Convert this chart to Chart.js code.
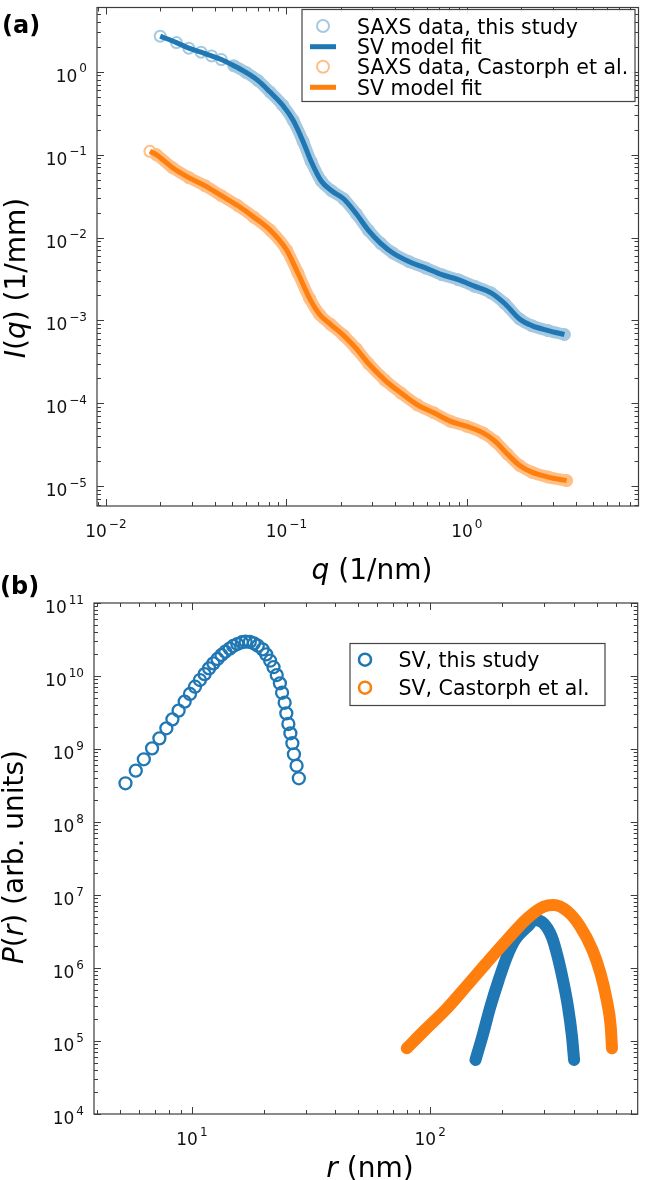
<!DOCTYPE html>
<html>
<head>
<meta charset="utf-8">
<script src="https://cdn.jsdelivr.net/npm/chart.js@4.4.1/dist/chart.umd.min.js"></script>
<style>
  html, body { margin: 0; padding: 0; background: #fff; }
  #wrap { position: relative; width: 646px; height: 1180px; overflow: hidden; }
  canvas { position: absolute; left: 0; }
  #saxsChart { top: 0; }
  #prChart { top: 560px; }
</style>
</head>
<body>
<div id="wrap">
  <canvas id="saxsChart" width="646" height="600"></canvas>
  <canvas id="prChart" width="646" height="620"></canvas>
</div>
<script>
// ---- panel (a): SAXS curves, q in 1/nm, I in 1/mm ----
var qThis = [0.0200, 0.0246, 0.0288, 0.0337, 0.0385, 0.0436, 0.0511, 0.0597, 0.0697, 0.0813, 0.0954, 0.1088, 0.1237, 0.137, 0.156, 0.178, 0.208, 0.244, 0.285, 0.333, 0.389, 0.48, 0.59, 0.727, 0.896, 1.10, 1.36, 1.62, 1.96, 2.29, 2.82, 3.47];
var iThis = [2.68, 2.24, 1.92, 1.72, 1.55, 1.40, 1.18, 0.98, 0.78, 0.567, 0.394, 0.261, 0.144, 0.083, 0.048, 0.0366, 0.0291, 0.0193, 0.0122, 0.0085, 0.0065, 0.0051, 0.0043, 0.00356, 0.0031, 0.00259, 0.00215, 0.0016, 0.00104, 0.000865, 0.000754, 0.000676];
var qCast = [0.01754, 0.0190, 0.0234, 0.0288, 0.0355, 0.0436, 0.0537, 0.0661, 0.0815, 0.1003, 0.1158, 0.1347, 0.1528, 0.1757, 0.208, 0.244, 0.285, 0.351, 0.432, 0.532, 0.656, 0.808, 0.995, 1.23, 1.43, 1.675, 1.96, 2.29, 2.82, 3.57];
var iCast = [0.1095, 0.1, 0.0695, 0.0528, 0.042, 0.0319, 0.0243, 0.0176, 0.0122, 0.00706, 0.00373, 0.00183, 0.00118, 0.000896, 0.000656, 0.000456, 0.000302, 0.000191, 0.000133, 9.6e-5, 7.7e-5, 6.1e-5, 5.3e-5, 4.4e-5, 3.5e-5, 2.45e-5, 1.78e-5, 1.48e-5, 1.29e-5, 1.17e-5];

// ---- panel (b): size distributions, r in nm ----
var rSmall = [5.26, 5.81, 6.28, 6.80, 7.30, 7.81, 8.28, 8.79, 9.32, 9.81, 10.3, 10.8, 11.3, 11.8, 12.3, 12.8, 13.3, 13.8, 14.4, 14.9, 15.5, 16.2, 16.8, 17.5, 18.2, 18.9, 19.8, 20.5, 21.3, 22.0, 22.7, 23.4, 23.9, 24.5, 24.9, 25.4, 25.9, 26.4, 26.8, 27.5, 28.1];
var pSmall = [3.39e8, 5.05e8, 7.23e8, 1.02e9, 1.40e9, 1.92e9, 2.55e9, 3.35e9, 4.45e9, 5.67e9, 7.13e9, 8.8e9, 1.06e10, 1.27e10, 1.49e10, 1.71e10, 1.94e10, 2.15e10, 2.37e10, 2.58e10, 2.74e10, 2.9e10, 2.95e10, 2.93e10, 2.8e10, 2.6e10, 2.32e10, 1.98e10, 1.62e10, 1.32e10, 1.03e10, 7.94e9, 5.9e9, 4.3e9, 3.08e9, 2.2e9, 1.64e9, 1.2e9, 8.46e8, 5.9e8, 3.97e8];
var rThisLarge = [155, 165.6, 179, 194, 210, 227, 256, 276, 299, 324, 343, 361, 379, 394, 402];
var pThisLarge = [5.5e4, 1.15e5, 2.95e5, 6.85e5, 1.43e6, 2.42e6, 3.68e6, 4.55e6, 4.1e6, 2.68e6, 1.43e6, 6.85e5, 2.95e5, 1.15e5, 5.5e4];
var rCast = [79.8, 95.2, 116, 141.5, 172, 210, 256, 299, 330, 379, 427, 480, 519, 551, 573, 580];
var pCast = [7.94e4, 1.42e5, 2.66e5, 5.55e5, 1.16e6, 2.42e6, 4.8e6, 6.9e6, 7.3e6, 5.9e6, 3.68e6, 1.77e6, 8.45e5, 3.65e5, 1.57e5, 7.94e4];

// tick labels (decades)
var xTicksA = [1e-2, 1e-1, 1];
var yTicksA = [1e-5, 1e-4, 1e-3, 1e-2, 1e-1, 1];
var xTicksB = [10, 100];
var yTicksB = [1e4, 1e5, 1e6, 1e7, 1e8, 1e9, 1e10, 1e11];

var BLUE = '#1f77b4', ORANGE = '#ff7f0e';
var BLUE_LIGHT = 'rgb(165,201,225)', ORANGE_LIGHT = 'rgb(255,191,134)';
var FONT = '"DejaVu Sans", "Noto Sans", sans-serif';

function pts(xs, ys) {
    return xs.map(function(x, i){ return {x: x, y: ys[i]}; });
}

function exponentOf(v) {
    return String(Math.round(Math.log10(v))).replace('-', '\u2212');
}

// draw "10" with a raised exponent; anchor 'right' (y axis) or 'center' (x axis)
function drawPow(ctx, v, x, base, anchor) {
    var e = exponentOf(v);
    ctx.font = '17px ' + FONT;
    var w1 = ctx.measureText('10').width;
    ctx.font = '12px ' + FONT;
    var w2 = ctx.measureText(e).width;
    var total = w1 + 2 + w2;
    var x0 = anchor === 'right' ? x - total : x - total / 2;
    ctx.font = '17px ' + FONT;
    ctx.fillText('10', x0, base);
    ctx.font = '12px ' + FONT;
    ctx.fillText(e, x0 + w1 + 2, base - 9.5);
}

// frame, inward major/minor ticks on all four sides, decade labels
var frameTicks = {
    id: 'frameTicks',
    afterDatasetsDraw: function(chart) {
        var a = chart.chartArea, ctx = chart.ctx;
        ctx.save();
        ctx.strokeStyle = '#3c3c3c';
        ctx.lineWidth = 1.2;
        ctx.strokeRect(a.left, a.top, a.right - a.left, a.bottom - a.top);
        ctx.lineWidth = 1;
        ['x', 'y'].forEach(function(id){
            var s = chart.scales[id];
            var lo = Math.floor(Math.log10(s.min)), hi = Math.ceil(Math.log10(s.max));
            for (var k = lo; k <= hi; k++) {
                for (var m = 1; m <= 9; m++) {
                    var v = m * Math.pow(10, k);
                    if (v < s.min * 0.999 || v > s.max * 1.001) continue;
                    var p = Math.round(s.getPixelForValue(v)) + 0.5;
                    var len = m === 1 ? 7 : 4;
                    ctx.beginPath();
                    if (id === 'x') {
                        ctx.moveTo(p, a.bottom); ctx.lineTo(p, a.bottom - len);
                        ctx.moveTo(p, a.top); ctx.lineTo(p, a.top + len);
                    } else {
                        ctx.moveTo(a.left, p); ctx.lineTo(a.left + len, p);
                        ctx.moveTo(a.right, p); ctx.lineTo(a.right - len, p);
                    }
                    ctx.stroke();
                }
            }
        });
        ctx.fillStyle = '#111';
        ctx.textBaseline = 'alphabetic';
        ctx.textAlign = 'left';
        chart.scales.x.ticks.forEach(function(t){
            drawPow(ctx, t.value, chart.scales.x.getPixelForValue(t.value), a.bottom + 31, 'center');
        });
        chart.scales.y.ticks.forEach(function(t){
            drawPow(ctx, t.value, a.left - 10, chart.scales.y.getPixelForValue(t.value) + 10, 'right');
        });
        ctx.restore();
    }
};

// boxed legend drawn inside the plot area
function boxLegend(o) {
    return {
        id: 'boxLegend',
        afterDraw: function(chart) {
            var ctx = chart.ctx;
            ctx.save();
            ctx.fillStyle = 'rgba(255,255,255,0.9)';
            ctx.fillRect(o.x, o.y, o.w, o.h);
            ctx.strokeStyle = '#444';
            ctx.lineWidth = 1.2;
            ctx.strokeRect(o.x, o.y, o.w, o.h);
            var row = 0;
            chart.data.datasets.forEach(function(ds){
                if (!ds.legendMarker) return;
                var cy = o.rows[row], base = o.baselines[row];
                row++;
                ctx.strokeStyle = ds.legendColor;
                ctx.beginPath();
                if (ds.legendMarker === 'line') {
                    ctx.lineWidth = 5;
                    ctx.moveTo(o.markerX - 13, cy);
                    ctx.lineTo(o.markerX + 13, cy);
                } else {
                    ctx.lineWidth = o.ring;
                    ctx.arc(o.markerX, cy, o.radius, 0, Math.PI * 2);
                }
                ctx.stroke();
                ctx.fillStyle = '#000';
                ctx.font = o.size + 'px ' + FONT;
                ctx.textBaseline = 'alphabetic';
                ctx.textAlign = 'left';
                ctx.fillText(ds.label, o.textX, base);
            });
            ctx.restore();
        }
    };
}

// axis titles with italic symbols and the panel letters
function textLayer(items) {
    return {
        id: 'textLayer',
        afterDraw: function(chart) {
            var ctx = chart.ctx;
            items.forEach(function(it){
                ctx.save();
                ctx.translate(it.x, it.y);
                if (it.rot) ctx.rotate(it.rot);
                ctx.fillStyle = '#000';
                ctx.textBaseline = 'alphabetic';
                ctx.textAlign = 'left';
                var total = 0;
                it.parts.forEach(function(p){
                    ctx.font = (p[1] ? p[1] + ' ' : '') + it.size + 'px ' + FONT;
                    total += ctx.measureText(p[0]).width;
                });
                var x = it.align === 'left' ? 0 : -total / 2;
                it.parts.forEach(function(p){
                    ctx.font = (p[1] ? p[1] + ' ' : '') + it.size + 'px ' + FONT;
                    ctx.fillText(p[0], x, 0);
                    x += ctx.measureText(p[0]).width;
                });
                ctx.restore();
            });
        }
    };
}

function logAxis(min, max, tickVals, fitKey, fitSize) {
    return {
        type: 'logarithmic',
        min: min,
        max: max,
        grid: { display: false, drawTicks: false },
        border: { display: false },
        afterBuildTicks: function(s){ s.ticks = tickVals.map(function(v){ return {value: v}; }); },
        afterFit: function(s){ s[fitKey] = fitSize; },
        ticks: { display: false, autoSkip: false }
    };
}

// ---------- chart (a) ----------
var ctxA = document.getElementById('saxsChart').getContext('2d');
var saxsChart = new Chart(ctxA, {
    type: 'scatter',
    data: {
        datasets: [{
            label: 'SAXS data, this study',
            data: pts(qThis, iThis),
            showLine: true,
            borderColor: BLUE_LIGHT,
            borderWidth: 12,
            borderCapStyle: 'round',
            borderJoinStyle: 'round',
            cubicInterpolationMode: 'monotone',
            segment: { borderColor: function(c){ return c.p0DataIndex < 6 ? 'rgba(0,0,0,0)' : BLUE_LIGHT; } },
            pointRadius: 5.5,
            pointBorderWidth: 2,
            pointBorderColor: BLUE_LIGHT,
            pointBackgroundColor: 'rgba(0,0,0,0)',
            order: 2,
            legendMarker: 'circle',
            legendColor: BLUE_LIGHT
        }, {
            label: 'SV model fit',
            data: pts(qThis, iThis),
            showLine: true,
            borderColor: BLUE,
            borderWidth: 5,
            cubicInterpolationMode: 'monotone',
            pointRadius: 0,
            order: 1,
            legendMarker: 'line',
            legendColor: BLUE
        }, {
            label: 'SAXS data, Castorph et al.',
            data: pts(qCast, iCast),
            showLine: true,
            borderColor: ORANGE_LIGHT,
            borderWidth: 12,
            borderCapStyle: 'round',
            borderJoinStyle: 'round',
            cubicInterpolationMode: 'monotone',
            segment: { borderColor: function(c){ return c.p0DataIndex < 1 ? 'rgba(0,0,0,0)' : ORANGE_LIGHT; } },
            pointRadius: 5.5,
            pointBorderWidth: 2,
            pointBorderColor: ORANGE_LIGHT,
            pointBackgroundColor: 'rgba(0,0,0,0)',
            order: 2,
            legendMarker: 'circle',
            legendColor: ORANGE_LIGHT
        }, {
            label: 'SV model fit',
            data: pts(qCast, iCast),
            showLine: true,
            borderColor: ORANGE,
            borderWidth: 5,
            cubicInterpolationMode: 'monotone',
            pointRadius: 0,
            order: 1,
            legendMarker: 'line',
            legendColor: ORANGE
        }]
    },
    options: {
        responsive: false,
        animation: false,
        devicePixelRatio: 1,
        layout: { padding: { top: 1, right: 2, left: 0, bottom: 0 } },
        plugins: { legend: { display: false }, tooltip: { enabled: false } },
        scales: {
            x: logAxis(0.00893, 8.93, xTicksA, 'height', 94),
            y: logAxis(5.78e-6, 5.94, yTicksA, 'width', 97)
        }
    },
    plugins: [frameTicks,
        boxLegend({ x: 302, y: 9.5, w: 333, h: 92, rows: [26, 46.7, 66.7, 87.3], baselines: [33.5, 54, 74.2, 94.8],
                    markerX: 323, textX: 357, radius: 6, ring: 2, size: 20.5 }),
        textLayer([
            { parts: [['I', 'italic'], ['('], ['q', 'italic'], [') (1/mm)']], x: 25, y: 278, rot: -Math.PI / 2, size: 28 },
            { parts: [['q', 'italic'], [' (1/nm)']], x: 372, y: 579, size: 28 },
            { parts: [['(a)', 'bold']], x: 2, y: 33, size: 24, align: 'left' }
        ])]
});

// ---------- chart (b) ----------
var ctxB = document.getElementById('prChart').getContext('2d');
var prChart = new Chart(ctxB, {
    type: 'scatter',
    data: {
        datasets: [{
            label: 'SV, this study',
            data: pts(rSmall, pSmall),
            showLine: false,
            pointRadius: 6,
            pointBorderWidth: 2.3,
            pointBorderColor: BLUE,
            pointBackgroundColor: 'rgba(0,0,0,0)',
            order: 2,
            legendMarker: 'circle',
            legendColor: BLUE
        }, {
            label: 'SV, this study (large)',
            data: pts(rThisLarge, pThisLarge),
            showLine: true,
            borderColor: BLUE,
            borderWidth: 12,
            borderCapStyle: 'round',
            borderJoinStyle: 'round',
            cubicInterpolationMode: 'monotone',
            pointRadius: 0,
            order: 1
        }, {
            label: 'SV, Castorph et al.',
            data: pts(rCast, pCast),
            showLine: true,
            borderColor: ORANGE,
            borderWidth: 12,
            borderCapStyle: 'round',
            borderJoinStyle: 'round',
            cubicInterpolationMode: 'monotone',
            pointRadius: 0,
            order: 0,
            legendMarker: 'circle',
            legendColor: ORANGE
        }]
    },
    options: {
        responsive: false,
        animation: false,
        devicePixelRatio: 1,
        layout: { padding: { top: 43, right: 2, left: 0, bottom: 0 } },
        plugins: { legend: { display: false }, tooltip: { enabled: false } },
        scales: {
            x: logAxis(3.88, 743.6, xTicksB, 'height', 66),
            y: logAxis(1e4, 1e11, yTicksB, 'width', 94)
        }
    },
    plugins: [frameTicks,
        boxLegend({ x: 350, y: 83.5, w: 255, h: 62, rows: [99.7, 127.7], baselines: [106.7, 135],
                    markerX: 365, textX: 398.5, radius: 6, ring: 2.5, size: 20.5 }),
        textLayer([
            { parts: [['P', 'italic'], ['('], ['r', 'italic'], [') (arb. units)']], x: 23, y: 297, rot: -Math.PI / 2, size: 28 },
            { parts: [['r', 'italic'], [' (nm)']], x: 370, y: 617, size: 28 },
            { parts: [['(b)', 'bold']], x: 0, y: 34, size: 24, align: 'left' }
        ])]
});
</script>
</body>
</html>
